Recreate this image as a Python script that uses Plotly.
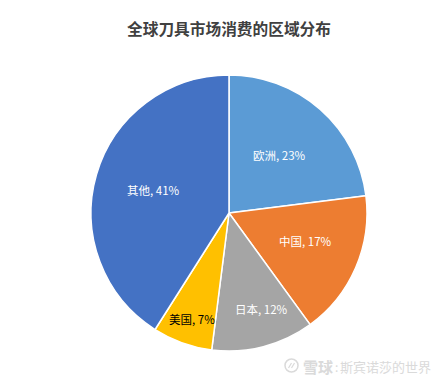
import plotly.graph_objects as go

W, H = 445, 381
title = "全球刀具市场消费的区域分布"
categories = ["欧洲", "中国", "日本", "美国", "其他"]
values = [23, 17, 12, 7, 41]
colors = ["#5B9BD5", "#ED7D31", "#A5A5A5", "#FFC000", "#4472C4"]
text_colors = ["#FFFFFF", "#FFFFFF", "#FFFFFF", "#000000", "#FFFFFF"]
label_px = [(279, 155), (305, 241), (261, 309), (192, 319), (153, 190)]
FONT = "Noto Sans CJK SC"
WM = "#DADADA"

cx, cy, r = 229, 213, 138

def px(x):
    return x / W

def py(y):
    return 1 - y / H

fig = go.Figure(go.Pie(
    labels=categories,
    values=values,
    sort=False,
    direction="clockwise",
    rotation=0,
    marker=dict(colors=colors, line=dict(color="#FFFFFF", width=1.5)),
    textinfo="none",
    hoverinfo="label+percent",
    domain=dict(x=[px(cx - r), px(cx + r)], y=[py(cy + r), py(cy - r)]),
    showlegend=False,
))

annotations = [
    dict(text=f"{c}, {v}%", x=px(p[0]), y=py(p[1]), xref="paper", yref="paper", showarrow=False,
         xanchor="center", yanchor="middle", font=dict(family=FONT, size=11.5, color=tc))
    for c, v, p, tc in zip(categories, values, label_px, text_colors)
]
annotations += [
    dict(text="<b>雪球</b>", x=px(318), y=py(366), xref="paper", yref="paper", showarrow=False,
         xanchor="center", yanchor="middle", font=dict(family=FONT, size=15, color=WM)),
    dict(text=":", x=px(336), y=py(366), xref="paper", yref="paper", showarrow=False,
         xanchor="center", yanchor="middle", font=dict(family=FONT, size=12, color=WM)),
    dict(text="斯宾诺莎的世界", x=px(433), y=py(366), xref="paper", yref="paper", showarrow=False,
         xanchor="right", yanchor="middle", font=dict(family=FONT, size=13, color=WM)),
]

fig.update_layout(
    width=W, height=H,
    margin=dict(l=0, r=0, t=0, b=0),
    paper_bgcolor="#FFFFFF",
    font=dict(family=FONT),
    title=dict(text="<b>" + title + "</b>", x=px(229), xanchor="center", y=py(30), yanchor="middle",
               font=dict(family=FONT, size=15.7, color="#404040")),
    annotations=annotations,
    shapes=[
        dict(type="circle", xref="paper", yref="paper", x0=px(285), x1=px(298), y0=py(372), y1=py(359),
             line=dict(color=WM, width=1.5)),
        dict(type="line", xref="paper", yref="paper", x0=px(288.5), x1=px(291.5), y0=py(368), y1=py(363),
             line=dict(color=WM, width=1.2)),
        dict(type="line", xref="paper", yref="paper", x0=px(291.5), x1=px(294.5), y0=py(368), y1=py(363),
             line=dict(color=WM, width=1.2)),
    ],
)
fig.write_html("out.html", config=dict(displayModeBar=False),
               post_script="document.body.style.margin='0';")
